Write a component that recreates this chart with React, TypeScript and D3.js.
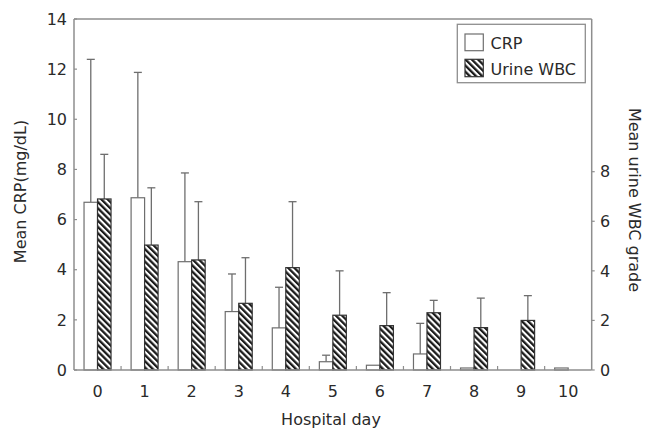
import React from 'react';
import * as d3 from 'd3';

// hospital days
const days = ['0', '1', '2', '3', '4', '5', '6', '7', '8', '9', '10'];
// CRP mean and sd (mg/dL)
const crpMean = [6.69, 6.87, 4.32, 2.33, 1.68, 0.33, 0.19, 0.64, 0.08, 0, 0.08];
const crpSd = [5.7, 5.0, 3.54, 1.5, 1.62, 0.26, 0, 1.22, 0, 0, 0];
// urine WBC grade mean and sd
const wbcMean = [6.9, 5.04, 4.44, 2.69, 4.13, 2.21, 1.79, 2.31, 1.71, 2.0, 0];
const wbcSd = [1.8, 2.31, 2.35, 1.84, 2.66, 1.79, 1.33, 0.5, 1.19, 1.0, 0];

const leftTicks = [0, 2, 4, 6, 8, 10, 12, 14];
const rightTicks = [0, 2, 4, 6, 8];

const font = '"DejaVu Sans", sans-serif';
const textColor = '#2a2a2a';
const axisColor = '#8e8e8e';
const barStroke = '#6e6e6e';

export default function App() {
  const width = 652;
  const height = 429;
  const margin = { top: 19, right: 60, bottom: 59, left: 74 };
  const x0 = margin.left;
  const x1 = 591.7;
  const yBottom = height - margin.bottom; // 370

  const x = d3.scaleBand().domain(days).range([x0, x1]).padding(0);
  const yL = d3.scaleLinear().domain([0, 14]).range([yBottom, margin.top]);
  const yR = d3.scaleLinear().domain([0, 14.16]).range([yBottom, margin.top]);

  const barW = 13.5;
  const bw = x.bandwidth();
  const off = (bw - 2 * barW) / 2;
  const cap = 4;

  // bars with error bars
  const bars = days.map((d, i) => {
    const bx = x(d)! + off;
    const cTop = yL(crpMean[i]);
    const wTop = yR(wbcMean[i]);
    return (
      <g key={d}>
        {crpSd[i] > 0 && (
          <g stroke={barStroke} strokeWidth={1.3}>
            <line x1={bx + barW / 2} x2={bx + barW / 2} y1={cTop} y2={yL(crpMean[i] + crpSd[i])} />
            <line x1={bx + barW / 2 - cap} x2={bx + barW / 2 + cap} y1={yL(crpMean[i] + crpSd[i])} y2={yL(crpMean[i] + crpSd[i])} />
          </g>
        )}
        {wbcSd[i] > 0 && (
          <g stroke={barStroke} strokeWidth={1.3}>
            <line x1={bx + barW * 1.5} x2={bx + barW * 1.5} y1={wTop} y2={yR(wbcMean[i] + wbcSd[i])} />
            <line x1={bx + barW * 1.5 - cap} x2={bx + barW * 1.5 + cap} y1={yR(wbcMean[i] + wbcSd[i])} y2={yR(wbcMean[i] + wbcSd[i])} />
          </g>
        )}
        {crpMean[i] > 0 && (
          <rect x={bx} y={cTop} width={barW} height={yBottom - cTop} fill="white" stroke={barStroke} strokeWidth={1.2} />
        )}
        {wbcMean[i] > 0 && (
          <rect x={bx + barW} y={wTop} width={barW} height={yBottom - wTop} fill="url(#hatch)" stroke="#333" strokeWidth={1.2} />
        )}
      </g>
    );
  });

  // x ticks at band boundaries
  const xBoundaries = days.slice(1).map(d => x(d)!);

  return (
    <>
      <style>{`body{margin:0}`}</style>
      <svg width={width} height={height} style={{ display: 'block', fontFamily: font }}>
        <defs>
          <pattern id="hatch" patternUnits="userSpaceOnUse" width={4.4} height={4.4} patternTransform="rotate(-45)">
            <rect width={4.4} height={4.4} fill="white" />
            <rect width={2.3} height={4.4} fill="#1a1a1a" />
          </pattern>
        </defs>

        {bars}

        {/* frame */}
        <g stroke={axisColor} strokeWidth={1.5} fill="none">
          <line x1={x0} x2={x1} y1={margin.top} y2={margin.top} />
          <line x1={x0} x2={x0} y1={margin.top} y2={yBottom} />
          <line x1={x1} x2={x1} y1={margin.top} y2={yBottom} />
          <line x1={x0} x2={x1} y1={yBottom} y2={yBottom} />
        </g>

        {/* left axis */}
        {leftTicks.map(t => (
          <g key={t} transform={`translate(0,${yL(t)})`}>
            <line x1={x0} x2={x0 + 3} stroke={axisColor} strokeWidth={1.2} />
            <text x={67} dy="0.36em" textAnchor="end" fontSize={16} fill={textColor}>{t}</text>
          </g>
        ))}

        {/* right axis */}
        {rightTicks.map(t => (
          <g key={t} transform={`translate(0,${yR(t)})`}>
            <line x1={x1} x2={x1 + 3} stroke={axisColor} strokeWidth={1.2} />
            <text x={600} dy="0.36em" textAnchor="start" fontSize={16} fill={textColor}>{t}</text>
          </g>
        ))}

        {/* x axis */}
        {xBoundaries.map((bx, i) => (
          <line key={i} x1={bx} x2={bx} y1={yBottom} y2={yBottom - 4} stroke={axisColor} strokeWidth={1.2} />
        ))}
        {days.map(d => (
          <text key={d} x={x(d)! + bw / 2} y={397} textAnchor="middle" fontSize={16} fill={textColor}>{d}</text>
        ))}

        {/* axis titles */}
        <text x={331} y={424.5} textAnchor="middle" fontSize={16} fill={textColor}>Hospital day</text>
        <text transform="translate(25.5,191.5) rotate(-90)" textAnchor="middle" fontSize={16} fill={textColor}>Mean CRP(mg/dL)</text>
        <text transform="translate(629,200) rotate(90)" textAnchor="middle" fontSize={16} fill={textColor}>Mean urine WBC grade</text>

        {/* legend */}
        <rect x={457.3} y={24.3} width={128} height={58.4} fill="white" stroke={axisColor} strokeWidth={1.3} />
        <rect x={465} y={34} width={18.3} height={16.7} fill="white" stroke={barStroke} strokeWidth={1.2} />
        <text x={490.5} y={48.7} fontSize={16} fill={textColor}>CRP</text>
        <rect x={465} y={59.3} width={18.3} height={17.4} fill="url(#hatch)" stroke="#333" strokeWidth={1.2} />
        <text x={490.5} y={75} fontSize={16} fill={textColor}>Urine WBC</text>
      </svg>
    </>
  );
}
